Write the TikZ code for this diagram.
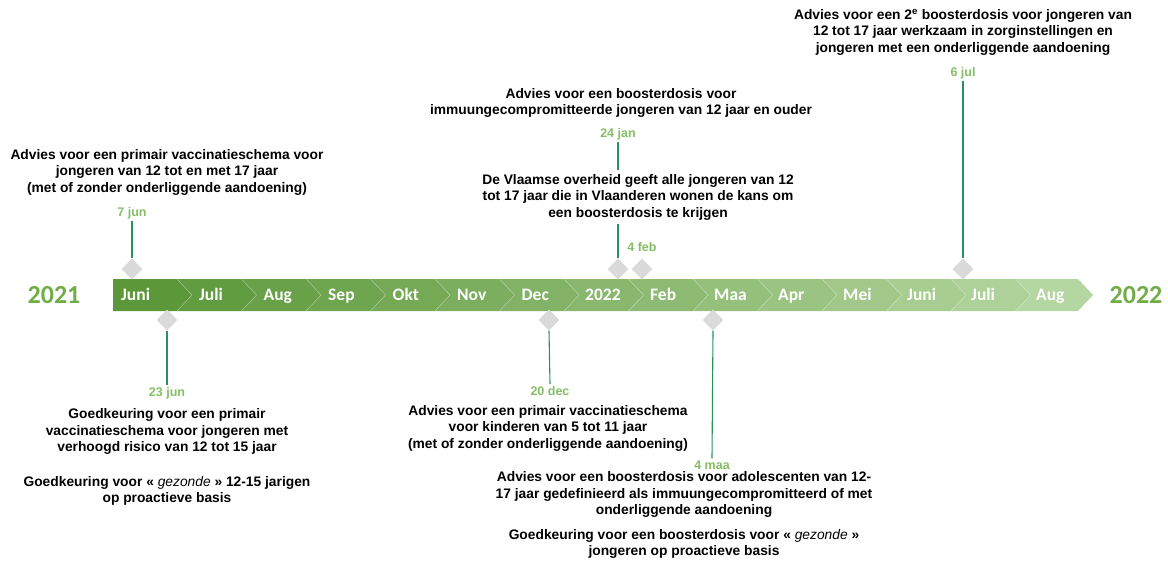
\documentclass[tikz,border=0pt]{standalone}
\usepackage{fontspec}
\setmainfont{Liberation Sans}
\newfontfamily\monthfont{Carlito}
\usetikzlibrary{shapes.geometric}
\definecolor{barL}{RGB}{92,152,58}
\definecolor{barR}{RGB}{180,214,160}
\definecolor{yeargreen}{RGB}{112,173,71}
\definecolor{datecol}{RGB}{134,190,102}
\definecolor{linecol}{RGB}{40,145,100}
\definecolor{diamcol}{RGB}{218,218,218}
\begin{document}
\begin{tikzpicture}[x=1pt,y=-1pt,
  desc/.style={font=\bfseries\fontsize{13.8}{16.5}\selectfont, align=center, inner sep=2pt, text=black},
  datelbl/.style={font=\bfseries\fontsize{12.5}{14}\selectfont, text=datecol, inner sep=2pt},
  diam/.style={diamond, fill=diamcol, minimum width=21pt, minimum height=21pt, inner sep=0pt},
  conn/.style={draw=linecol, line width=1.1pt},
  month/.style={font=\monthfont\bfseries\fontsize{17.5}{17.5}\selectfont, text=white, anchor=base west, inner sep=0pt},
  year/.style={font=\monthfont\bfseries\fontsize{26}{26}\selectfont, text=yeargreen, anchor=base, inner sep=0pt}]
\useasboundingbox (0,0) rectangle (1168,578);
\fill[white] (0,0) rectangle (1168,578);

% bar segments
\foreach \k in {0,...,14} {
  \pgfmathsetmacro\tl{192+64.5*(\k-1)}
  \pgfmathsetmacro\tr{\k==14 ? 1093 : 192+64.5*\k}
  \pgfmathtruncatemacro\p{100*\k/14}
  \ifnum\k=0
    \fill[barR!\p!barL] (113,279) -- (\tr-15,279) -- (\tr,295) -- (\tr-15,311) -- (113,311) -- cycle;
  \else
    \fill[barR!\p!barL] (\tl-15,279) -- (\tr-15,279) -- (\tr,295) -- (\tr-15,311) -- (\tl-15,311) -- (\tl,295) -- cycle;
  \fi
}
\foreach \k in {0,...,13} {
  \pgfmathsetmacro\tr{192+64.5*\k}
  \draw[white, opacity=0.3, line width=0.6pt] (\tr-15,279) -- (\tr,295) -- (\tr-15,311);
}

% month labels
\foreach \x/\m [count=\i] in {121/Juni,199/Juli,263.5/Aug,328/Sep,392.5/Okt,457/Nov,521.5/Dec,585/2022,650/Feb,714/Maa,778/Apr,843/Mei,907/Juni,971/Juli,1036/Aug}
  \node[month] (m\i) at (\x,300.5) {\m};

% years
\node[year] (y1) at (54,303) {2021};
\node[year] (y2) at (1136,303) {2022};

% diamonds
\node[diam] (d1) at (132,269) {};
\node[diam] (d2) at (167,320) {};
\node[diam] (d3) at (549,320) {};
\node[diam] (d4) at (618,269) {};
\node[diam] (d5) at (642,269) {};
\node[diam] (d6) at (713,320) {};
\node[diam] (d7) at (963,269) {};

% date labels
\node[datelbl] (l1) at (132,213) {7 jun};
\node[datelbl] (l2) at (167,393) {23 jun};
\node[datelbl] (l3) at (550,391) {20 dec};
\node[datelbl] (l4) at (618,134) {24 jan};
\node[datelbl] (l5) at (642,247) {4 feb};
\node[datelbl] (l6) at (712,465) {4 maa};
\node[datelbl] (l7) at (963,73) {6 jul};

% connectors
\draw[conn] (l1.south) -- (d1.north);
\draw[conn] (d2.south) -- (l2.north);
\draw[conn] (d3.south) -- (l3.north);
\draw[conn] (l4.south) -- (d4.north);
\draw[conn] (d6.south) -- (l6.north);
\draw[conn] (l7.south) -- (d7.north);

% descriptions
\node[desc] (t1) at (167,172) {Advies voor een primair vaccinatieschema voor\\jongeren van 12 tot en met 17 jaar\\(met of zonder onderliggende aandoening)};
\node[desc] (t2) at (621,103) {Advies voor een boosterdosis voor\\immuungecompromitteerde jongeren van 12 jaar en ouder};
\node[desc, fill=white, inner sep=4pt] (t3) at (638,197) {De Vlaamse overheid geeft alle jongeren van 12\\tot 17 jaar die in Vlaanderen wonen de kans om\\een boosterdosis te krijgen};
\node[desc] (t4) at (963,32) {Advies voor een 2\textsuperscript{e} boosterdosis voor jongeren van\\12 tot 17 jaar werkzaam in zorginstellingen en\\jongeren met een onderliggende aandoening};
\node[desc] (b1) at (167,457) {Goedkeuring voor een primair\\vaccinatieschema voor jongeren met\\verhoogd risico van 12 tot 15 jaar\\[18pt]Goedkeuring voor « {\mdseries\itshape gezonde} » 12-15 jarigen\\op proactieve basis};
\node[desc] (b2) at (548,428) {Advies voor een primair vaccinatieschema\\voor kinderen van 5 tot 11 jaar\\(met of zonder onderliggende aandoening)};
\node[desc] (b3) at (684,515) {Advies voor een boosterdosis voor adolescenten van 12-\\17 jaar gedefinieerd als immuungecompromitteerd of met\\onderliggende aandoening\\[8pt]Goedkeuring voor een boosterdosis voor « {\mdseries\itshape gezonde} »\\jongeren op proactieve basis};
\end{tikzpicture}
\end{document}
